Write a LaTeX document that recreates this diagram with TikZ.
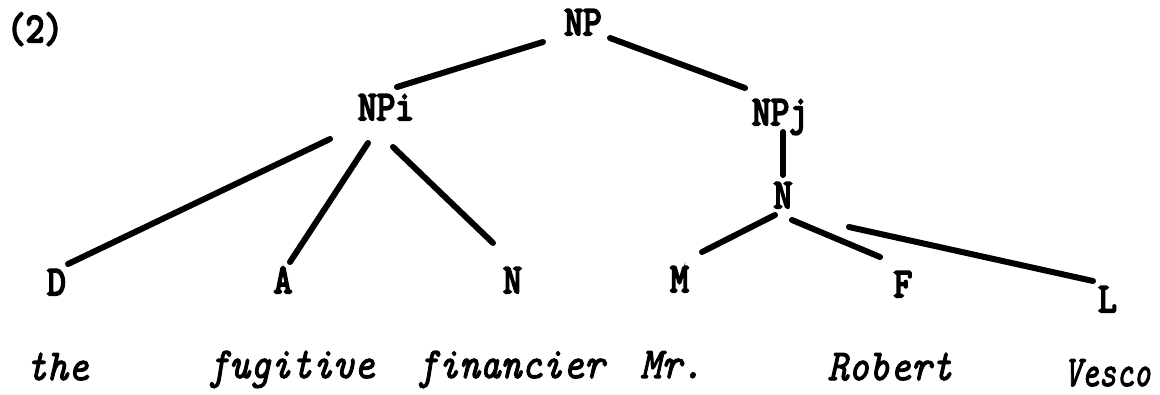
\documentclass[tikz,border=0pt]{standalone}
\usepackage{fontspec}
\newfontfamily\labfont{Latin Modern Mono}[FakeBold=5]
\newfontfamily\wordfont{Latin Modern Mono}[FakeBold=2.5]
\tikzset{
  lab/.style={anchor=base, inner sep=0pt, font=\labfont\fontsize{42}{42}\selectfont},
  word/.style={anchor=base, inner sep=0pt, font=\wordfont\itshape\fontsize{44}{44}\selectfont},
  branch/.style={line width=6pt, line cap=round}
}
\newcommand{\lx}[1]{\scalebox{0.86}[1]{#1}}
\newcommand{\wx}[1]{\scalebox{0.9}[1]{#1}}
\begin{document}
\begin{tikzpicture}[x=1pt,y=-1pt]
\useasboundingbox (0,0) rectangle (1160,394);
% labels
\node[lab] (ex) at (35,42) {\lx{(2)}};
\node[lab] (NP) at (583,35) {\lx{NP}};
\node[lab] (NPi) at (386,120) {\lx{NPi}};
\node[lab] (NPj) at (780,125) {\lx{NPj}};
\node[lab] (N2) at (783,208) {\lx{N}};
\node[lab] (D) at (56.5,295) {\lx{D}};
\node[lab] (A) at (283,293) {\lx{A}};
\node[lab] (N1) at (512.5,293) {\lx{N}};
\node[lab] (M) at (679.5,292) {\lx{M}};
\node[lab] (F) at (903,297) {\lx{F}};
\node[lab] (L) at (1107.5,312) {\lx{L}};
% words
\node[word] (w1) at (57.5,380) {\wx{the}};
\node[word] (w2) at (291.5,378) {\wx{fugitive}};
\node[word] (w3) at (511,378) {\wx{financier}};
\node[word] (w4) at (671.5,378) {\wx{Mr.}};
\node[word] (w5) at (890,380) {\wx{Robert}};
\node[word] (w6) at (1107.5,386) {\scalebox{0.75}[1]{Vesco}};
% branches
\draw[branch] ([shift={(-40,7)}]NP.base) -- ([shift={(11,-33)}]NPi.base);
\draw[branch] ([shift={(27,3)}]NP.base) -- ([shift={(-35,-37)}]NPj.base);
\draw[branch] ([shift={(3,7)}]NPj.base) -- ([shift={(0,-33)}]N2.base);
\draw[branch] ([shift={(-56,19)}]NPi.base) -- ([shift={(11.5,-31)}]D.base);
\draw[branch] ([shift={(-18,23)}]NPi.base) -- ([shift={(7,-31)}]A.base);
\draw[branch] ([shift={(7,27)}]NPi.base) -- ([shift={(-19.5,-50)}]N1.base);
\draw[branch] ([shift={(-8,7)}]N2.base) -- ([shift={(22.5,-40)}]M.base);
\draw[branch] ([shift={(9,12)}]N2.base) -- ([shift={(-23,-40)}]F.base);
\draw[branch] ([shift={(66,19)}]N2.base) -- ([shift={(-14.5,-31)}]L.base);
\end{tikzpicture}
\end{document}
